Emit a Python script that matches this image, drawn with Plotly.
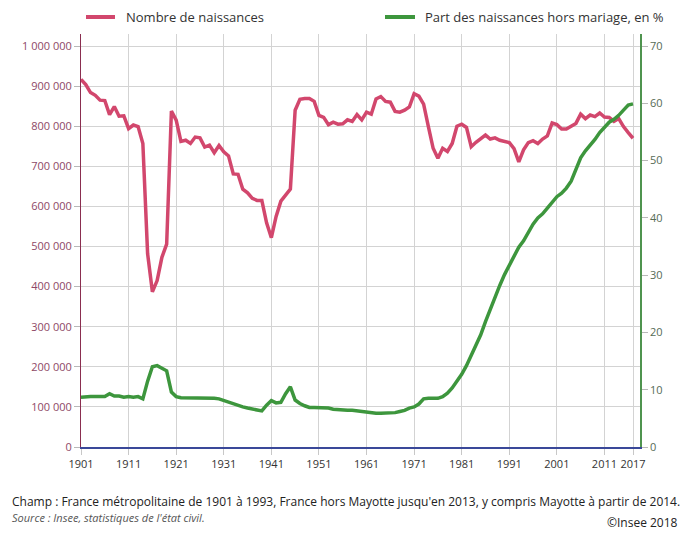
import plotly.graph_objects as go

years = list(range(1901, 2018))

naissances = [
    917000, 904000, 884000, 877000, 865000, 864000, 829000, 849000, 825000, 826000,  # 1901-1910
    794000, 803000, 799000, 757000, 482000, 387000, 415000, 473000, 506000, 838000,  # 1911-1920
    815000, 762000, 765000, 757000, 773000, 771000, 748000, 753000, 734000, 752000,  # 1921-1930
    736000, 726000, 681000, 680000, 643000, 634000, 620000, 615000, 615000, 559000,  # 1931-1940
    522000, 575000, 613000, 628000, 643000, 840000, 867000, 869000, 869000, 862000,  # 1941-1950
    827000, 822000, 804000, 810000, 805000, 806000, 816000, 812000, 829000, 816000,  # 1951-1960
    835000, 830000, 868000, 874000, 862000, 860000, 837000, 835000, 840000, 848000,  # 1961-1970
    881000, 875000, 855000, 799000, 745000, 720000, 745000, 737000, 757000, 800000,  # 1971-1980
    805000, 797000, 749000, 760000, 768000, 778000, 768000, 771000, 765000, 762000,  # 1981-1990
    759000, 744000, 711000, 741000, 759000, 764000, 757000, 768000, 776000, 808000,  # 1991-2000
    804000, 793000, 793000, 800000, 807000, 830000, 819000, 828000, 824000, 833000,  # 2001-2010
    823000, 822000, 812000, 819000, 799000, 784000, 770000,                          # 2011-2017
]

part_hors_mariage = [
    8.7, 8.8, 8.8, 8.8, 8.8, 8.8, 9.3, 8.9, 8.9, 8.7,    # 1901-1910
    8.8, 8.7, 8.8, 8.4, 11.5, 14.0, 14.2, 13.7, 13.3, 9.6,  # 1911-1920
    8.8, 8.6, 8.6, 8.5, 8.6, 8.5, 8.5, 8.5, 8.5, 8.4,    # 1921-1930
    8.1, 7.9, 7.6, 7.2, 7.0, 6.8, 6.6, 6.4, 6.3, 7.3,    # 1931-1940
    8.1, 7.7, 7.8, 9.3, 10.5, 8.2, 7.6, 7.2, 6.9, 6.9,   # 1941-1950
    6.9, 6.8, 6.8, 6.6, 6.5, 6.4, 6.4, 6.4, 6.3, 6.1,    # 1951-1960
    6.0, 6.0, 5.9, 5.9, 5.9, 5.9, 6.0, 6.2, 6.4, 6.8,    # 1961-1970
    7.0, 7.5, 8.4, 8.5, 8.5, 8.5, 8.8, 9.4, 10.3, 11.4,  # 1971-1980
    12.7, 14.2, 15.9, 17.8, 19.6, 21.9, 24.1, 26.3, 28.2, 30.1,  # 1981-1990
    31.8, 33.2, 34.9, 36.0, 37.6, 38.9, 40.0, 40.7, 41.7, 42.6,  # 1991-2000
    43.7, 44.3, 45.2, 46.4, 48.4, 50.5, 51.7, 52.6, 53.7, 54.9,  # 2001-2010
    55.8, 56.7, 57.2, 57.9, 58.8, 59.7, 59.9,                    # 2011-2017
]

x_ticks = [1901, 1911, 1921, 1931, 1941, 1951, 1961, 1971, 1981, 1991, 2001, 2011, 2017]
y_ticks = [0, 100000, 200000, 300000, 400000, 500000, 600000, 700000, 800000, 900000, 1000000]
y2_ticks = [0, 10, 20, 30, 40, 50, 60, 70]

name_births = "Nombre de naissances"
name_share = "Part des naissances hors mariage, en %"
note_champ = ("Champ : France métropolitaine de 1901 à 1993, France hors Mayotte jusqu'en 2013, "
              "y compris Mayotte à partir de 2014.")
note_source = "Source : Insee, statistiques de l'état civil."
note_copy = "©Insee 2018"

PINK = "#d2476d"
GREEN = "#3d963d"
FONT = "Open Sans"

fig = go.Figure()
fig.add_trace(go.Scatter(x=years, y=naissances, name=name_births, mode="lines",
                         line=dict(color=PINK, width=3.5), yaxis="y"))
fig.add_trace(go.Scatter(x=years, y=part_hors_mariage, name=name_share, mode="lines",
                         line=dict(color=GREEN, width=3.5), yaxis="y2"))

fig.update_layout(
    width=697, height=536,
    margin=dict(l=81, r=57, t=34, b=89),
    paper_bgcolor="white", plot_bgcolor="white",
    showlegend=False,
    separators=", ",
    font=dict(family=FONT, size=11, color="#333333"),
    xaxis=dict(
        range=[1901, 2018.47], tickvals=x_ticks, ticktext=[str(v) for v in x_ticks],
        showgrid=True, gridcolor="#d3d3d3", gridwidth=1,
        showline=True, linecolor="#3a4899", linewidth=1.5,
        ticks="outside", ticklen=6, tickcolor="#c8c8c8",
        tickfont=dict(family=FONT, size=11, color="#333333"),
        zeroline=False, fixedrange=True,
    ),
    yaxis=dict(
        range=[0, 1030000], tickvals=y_ticks, tickformat=",d",
        showgrid=True, gridcolor="#d3d3d3", gridwidth=1,
        showline=True, linecolor="#8a2e50", linewidth=1,
        ticks="outside", ticklen=6, tickcolor="#b8b8b8",
        tickfont=dict(family=FONT, size=11, color="#8e4866"),
        zeroline=False,
    ),
    yaxis2=dict(
        range=[0, 72.1], tickvals=y2_ticks, overlaying="y", side="right",
        showgrid=False,
        showline=True, linecolor="#4f944f", linewidth=1.5,
        ticks="outside", ticklen=6, tickcolor="#b8b8b8",
        tickfont=dict(family=FONT, size=11, color="#566b56"),
        zeroline=False,
    ),
)

# Legend (manual, matching the original placement)
fig.add_shape(type="line", xref="paper", yref="paper", x0=0.0089, x1=0.0608, y0=1.0412, y1=1.0412,
              line=dict(color=PINK, width=4))
fig.add_annotation(text=name_births, xref="paper", yref="paper", x=0.0769, y=1.0412,
                   xanchor="left", yanchor="middle", showarrow=False,
                   font=dict(family=FONT, size=13, color="#333333"))
fig.add_shape(type="line", xref="paper", yref="paper", x0=0.5438, x1=0.5975, y0=1.0412, y1=1.0412,
              line=dict(color=GREEN, width=4))
fig.add_annotation(text=name_share, xref="paper", yref="paper", x=0.6118, y=1.0412,
                   xanchor="left", yanchor="middle", showarrow=False,
                   font=dict(family=FONT, size=13, color="#333333"))

# Footer notes
fig.add_annotation(text=note_champ, xref="paper", yref="paper", x=-0.127, y=-0.1308,
                   xanchor="left", yanchor="middle", showarrow=False,
                   font=dict(family=FONT, size=12, color="#222222"))
fig.add_annotation(text="<i>" + note_source + "</i>", xref="paper", yref="paper", x=-0.127, y=-0.1695,
                   xanchor="left", yanchor="middle", showarrow=False,
                   font=dict(family=FONT, size=11, color="#555555"))
fig.add_annotation(text=note_copy, xref="paper", yref="paper", x=1.0716, y=-0.1816,
                   xanchor="right", yanchor="middle", showarrow=False,
                   font=dict(family=FONT, size=12, color="#222222"))

fig.write_html("out.html")
